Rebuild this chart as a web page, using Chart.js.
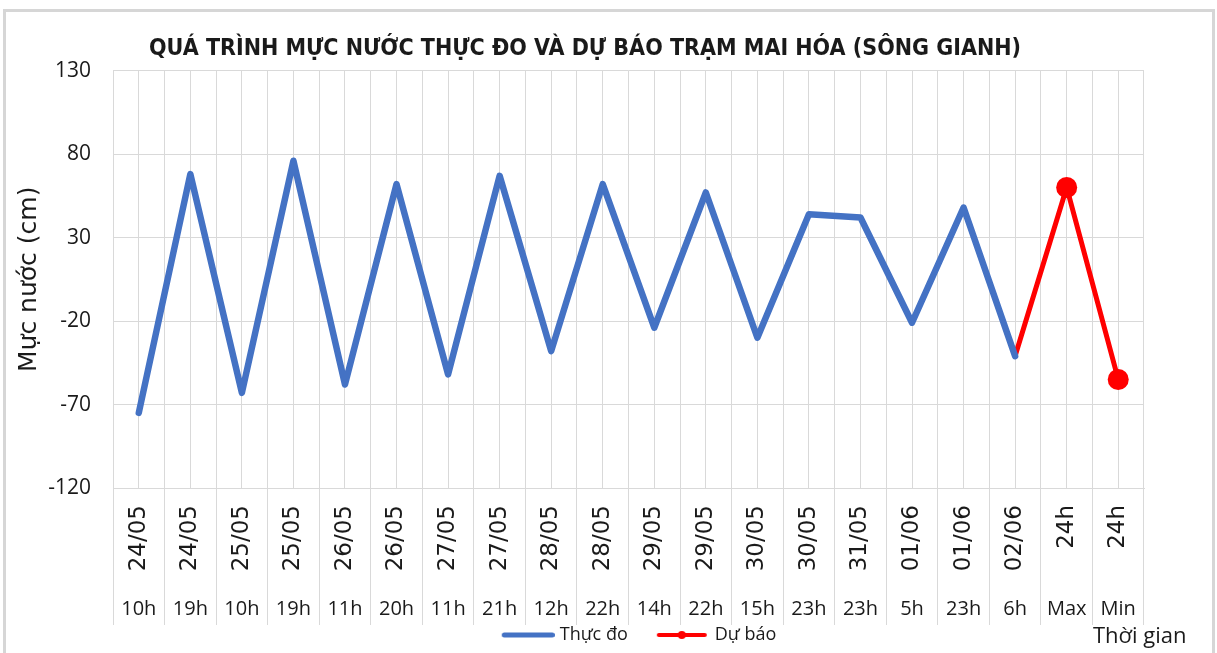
<!DOCTYPE html>
<html><head><meta charset="utf-8">
<script src="https://cdn.jsdelivr.net/npm/chart.js@4.4.1/dist/chart.umd.min.js"></script>
<style>html,body{margin:0;padding:0;background:#fff;overflow:hidden}canvas{display:block}</style>
</head><body>
<canvas id="c" width="1217" height="653"></canvas>
<script>
// ---- data ----
const dateLabels = ['24/05','24/05','25/05','25/05','26/05','26/05','27/05','27/05','28/05','28/05','29/05','29/05','30/05','30/05','31/05','01/06','01/06','02/06','24h','24h'];
const hourLabels = ['10h','19h','10h','19h','11h','20h','11h','21h','12h','22h','14h','22h','15h','23h','23h','5h','23h','6h','Max','Min'];
const observed = [-75,68,-63,76,-58,62,-52,67,-38,62,-24,57,-30,44,42,-21,48,-41,null,null];
const forecast = [null,null,null,null,null,null,null,null,null,null,null,null,null,null,null,null,null,-41,60,-55];
const yMin = -120, yMax = 130, yStep = 50;
const titleText = 'QUÁ TRÌNH MỰC NƯỚC THỰC ĐO VÀ DỰ BÁO TRẠM MAI HÓA (SÔNG GIANH)';
const yTitle = 'Mực nước (cm)';
const xTitle = 'Thời gian';
const seriesNames = ['Thực đo', 'Dự báo'];

const BLUE = '#4472C4', RED = '#FF0000', GRID = '#D9D9D9', TXT = '#1a1a1a';

// legend symbol images (line, optional dot); transparent left margin gives the gap between items
function legendImg(color, lineStart, lineEnd, lw, dot) {
  const c = document.createElement('canvas');
  c.width = 84; c.height = 12;
  const g = c.getContext('2d');
  const h = 6;
  g.strokeStyle = color; g.lineWidth = lw; g.lineCap = 'round';
  g.beginPath(); g.moveTo(lineStart + lw/2, h); g.lineTo(lineEnd - lw/2, h); g.stroke();
  if (dot) { g.fillStyle = color; g.beginPath(); g.arc((lineStart + lineEnd)/2, h, dot, 0, Math.PI*2); g.fill(); }
  return c;
}
const imgBlue = legendImg(BLUE, 31, 84, 5, 0);
const imgRed = legendImg(RED, 31, 81, 4, 4);

const framePlugin = {
  id: 'frame',
  beforeDraw(chart) {
    const ctx = chart.ctx;
    ctx.save();
    ctx.strokeStyle = '#D6D6D6'; ctx.lineWidth = 3;
    ctx.strokeRect(4.5, 10.5, 1209, 700);
    ctx.restore();
  },
  afterLayout(chart) {
    if (chart.titleBlock) { chart.titleBlock.left += 13; chart.titleBlock.right += 13; }
    if (chart.legend) {
      chart.legend.left += 53.5; chart.legend.right += 53.5;
      chart.legend.top += 2; chart.legend.bottom += 2;
    }
  },
  afterDraw(chart) {
    const ctx = chart.ctx;
    ctx.save();
    ctx.fillStyle = TXT;
    ctx.font = '22px "Open Sans"';
    ctx.textBaseline = 'middle'; ctx.textAlign = 'left';
    ctx.fillText(xTitle, 1093, 637);
    ctx.restore();
  }
};

new Chart(document.getElementById('c'), {
  type: 'line',
  data: {
    labels: dateLabels,
    datasets: [
      { label: seriesNames[0], data: observed, borderColor: BLUE, backgroundColor: BLUE, borderWidth: 6.5,
        pointRadius: 0, borderJoinStyle: 'round', borderCapStyle: 'round', tension: 0, spanGaps: false },
      { label: seriesNames[1], data: forecast, borderColor: RED, backgroundColor: RED, borderWidth: 5,
        pointRadius: ctx => (ctx.dataIndex >= 18 ? 10.5 : 0), pointBorderWidth: 0, pointBackgroundColor: RED,
        borderJoinStyle: 'round', borderCapStyle: 'round', tension: 0 }
    ]
  },
  options: {
    responsive: false,
    animation: false,
    devicePixelRatio: 1,
    layout: { padding: { left: 0, right: 73, top: 0, bottom: 1 } },
    plugins: {
      tooltip: { enabled: false },
      title: {
        display: true, text: titleText, color: TXT,
        font: { family: '"Liberation Sans Narrow", "DejaVu Sans Condensed", sans-serif', size: 23, weight: 'bold' },
        padding: { top: 35, bottom: 8 }
      },
      legend: {
        position: 'bottom',
        labels: {
          usePointStyle: true, pointStyleWidth: 76, padding: 2, color: TXT,
          font: { family: '"Open Sans"', size: 18 },
          generateLabels(chart) {
            const items = Chart.defaults.plugins.legend.labels.generateLabels(chart);
            items[0].pointStyle = imgBlue;
            items[1].pointStyle = imgRed;
            return items;
          }
        }
      }
    },
    scales: {
      x: {
        type: 'category', position: 'bottom', weight: 1, offset: true,
        grid: { offset: true, color: GRID, tickColor: GRID, tickLength: 137, lineWidth: 1 },
        border: { display: true, color: GRID },
        ticks: { autoSkip: false, minRotation: 90, maxRotation: 90, padding: -120, color: TXT,
                 font: { family: '"DejaVu Sans"', size: 23 } },
        afterFit(s) { s.height = 82; }
      },
      xh: {
        type: 'category', position: 'bottom', weight: 2, offset: true,
        grid: { display: false }, border: { display: false },
        ticks: { autoSkip: false, maxRotation: 0, minRotation: 0, padding: 19, color: TXT,
                 font: { family: '"Open Sans"', size: 20 },
                 callback: (v, i) => hourLabels[i] },
        afterFit(s) { s.height = 52; }
      },
      xc: {
        type: 'category', position: 'bottom', weight: 0, offset: true,
        grid: { offset: false, color: GRID, drawTicks: false, lineWidth: 1 },
        border: { display: false },
        ticks: { display: false },
        afterFit(s) { s.height = 0; }
      },
      y: {
        min: yMin, max: yMax,
        ticks: { stepSize: yStep, padding: 22, color: TXT, font: { family: '"Open Sans"', size: 21 } },
        grid: { color: GRID, drawTicks: false, lineWidth: 1 },
        border: { display: false },
        title: { display: true, text: yTitle, color: TXT, font: { family: '"DejaVu Sans"', size: 25 }, padding: { top: 14, bottom: 0 } },
        afterFit(s) { s.width = 113; }
      }
    }
  },
  plugins: [framePlugin]
});
</script>
</body></html>
